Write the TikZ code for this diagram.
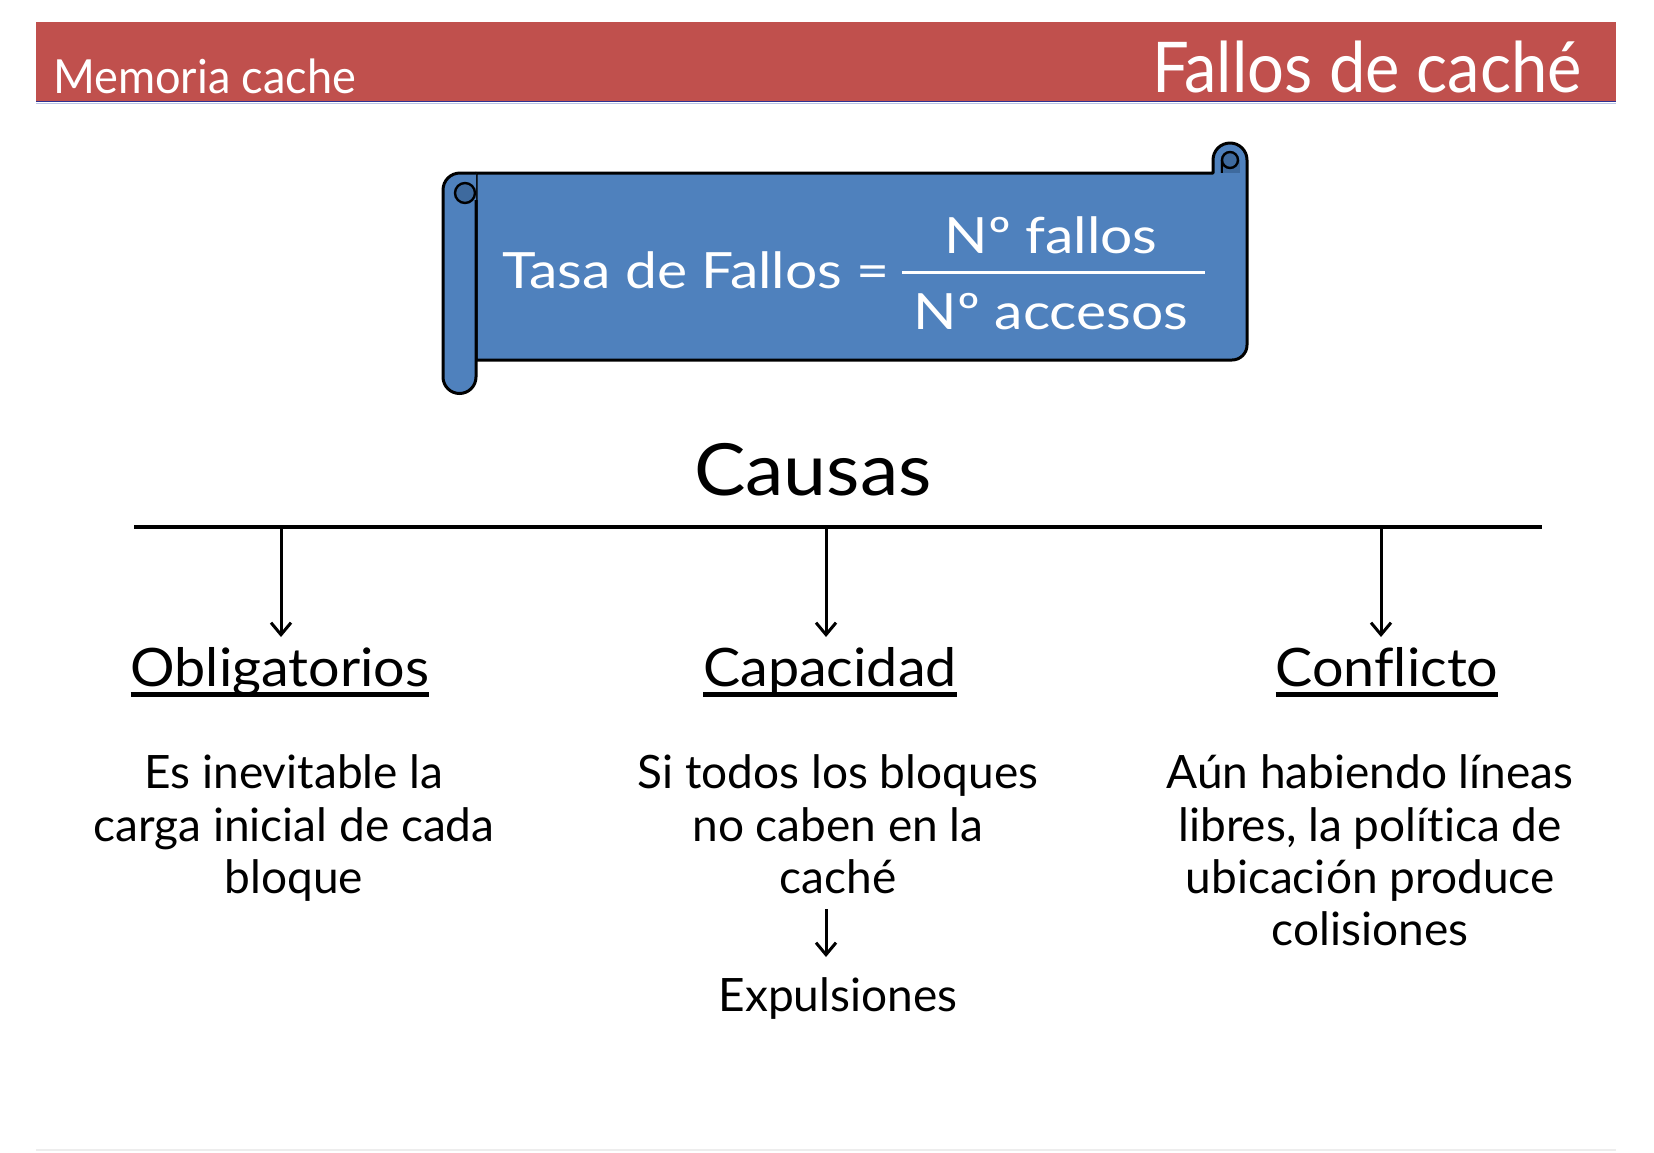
\documentclass[tikz,border=0pt]{standalone}
\usepackage{fontspec}
\usetikzlibrary{arrows.meta}
\setmainfont[Ligatures=NoCommon]{Lato}
\newfontfamily\memofont[FakeStretch=0.96]{Lato}
\newfontfamily\titlefont[FakeStretch=0.93]{Lato}
\newfontfamily\scrollfont[FakeStretch=1.14,Ligatures=NoCommon]{Lato}
\newfontfamily\headfont[FakeStretch=1.05,Ligatures=NoCommon]{Lato}
\newfontfamily\causasfont[FakeStretch=1.07]{Lato}
\definecolor{hdrred}{HTML}{C0504D}
\definecolor{scrollblue}{HTML}{4F81BD}
\definecolor{curlblue}{HTML}{3E6A9E}
\definecolor{hdrline}{HTML}{2E3192}
\definecolor{hdrlight}{HTML}{B8C4E8}
\begin{document}
\begin{tikzpicture}[x=0.5pt,y=-0.5pt,
  lbl/.style={anchor=base,inner sep=0pt,outer sep=0pt},
  bodytxt/.style={lbl,font=\fontsize{23pt}{26pt}\selectfont},
  headtxt/.style={lbl,font=\headfont\fontsize{26.5pt}{30pt}\selectfont},
  scrolltxt/.style={lbl,text=white,font=\scrollfont\fontsize{25pt}{30pt}\selectfont},
  outline/.style={draw=black,line width=1.5pt,line join=round},
  branch/.style={line width=1.5pt,-{Straight Barb[length=6pt,width=10pt,line width=1.5pt]}},
  uline/.style={line width=2.5pt}]
\useasboundingbox (0,0) rectangle (1654,1152);
% header
\fill[hdrred] (36,22) rectangle (1616,101);
\draw[hdrline,line width=0.9pt] (36,101.5) -- (1616,101.5);
\draw[hdrlight,line width=0.7pt] (36,103.5) -- (1616,103.5);
\node[lbl,anchor=base west,text=white,font=\memofont\fontsize{23.5pt}{28pt}\selectfont] (memo) at (53,93) {Memoria cache};
\node[lbl,anchor=base east,text=white,font=\titlefont\fontsize{35pt}{40pt}\selectfont] (title) at (1582,92) {Fallos de caché};
% scroll body
\path[fill=scrollblue,outline] (476,360) -- (476,173) -- (1213,173) -- (1213,160)
  .. controls (1213,150.6) and (1220.6,143) .. (1230,143)
  .. controls (1239.4,143) and (1247,150.6) .. (1247,160)
  -- (1247,345) .. controls (1247,353.3) and (1240.3,360) .. (1232,360) -- cycle;
% right curl detail
\fill[curlblue] (1220,160) rectangle (1240,173);
\path[fill=curlblue,draw=black,line width=1.2pt] (1230,160) circle[radius=8];
\draw[line width=1.2pt] (1222,160) -- (1222,173);
% left roll
\fill[scrollblue] (476,377) .. controls (476,386.1) and (468.6,393.5) .. (459.5,393.5)
  .. controls (450.4,393.5) and (443,386.1) .. (443,377) -- (443,190)
  .. controls (443,180.6) and (450.6,173) .. (460,173) -- (476,173) -- cycle;
\draw[outline] (476,200) -- (476,377) .. controls (476,386.1) and (468.6,393.5) .. (459.5,393.5)
  .. controls (450.4,393.5) and (443,386.1) .. (443,377) -- (443,190)
  .. controls (443,180.6) and (450.6,173) .. (460,173) -- (476,173);
\path[fill=curlblue,draw=black,line width=1.2pt] (465,193) circle[radius=10];
% scroll text
\node[scrolltxt,anchor=base west] (tasa) at (502,288) {Tasa de Fallos =};
\node[scrolltxt] (num) at (1051,253) {Nº fallos};
\node[scrolltxt] (den) at (1051,329) {Nº accesos};
\coordinate (fracL) at (902,272);
\coordinate (fracR) at (1205,272);
\draw[white,line width=1.5pt] (fracL) -- (fracR);
% causas
\node[lbl,font=\causasfont\fontsize{36pt}{40pt}\selectfont] (causas) at (813,495) {Causas};
\coordinate (barL) at (134,527);
\coordinate (barR) at (1542,527);
\draw[line width=2pt] (barL) -- (barR);
\coordinate (b1) at (281,527);
\coordinate (b2) at (826,527);
\coordinate (b3) at (1381,527);
\coordinate (t1) at (281,637);
\coordinate (t2) at (826,637);
\coordinate (t3) at (1381,637);
\draw[branch] (b1) -- (t1);
\draw[branch] (b2) -- (t2);
\draw[branch] (b3) -- (t3);
% headings
\node[headtxt] (obl) at (280,686) {Obligatorios};
\node[headtxt] (cap) at (830,686) {Capacidad};
\node[headtxt] (con) at (1387,686) {Conflicto};
\foreach \h in {obl,cap,con}{
  \draw[uline] ([yshift=-4pt]\h.base west) -- ([yshift=-4pt]\h.base east);
}
% left block
\node[bodytxt] (l1) at (294,788) {Es inevitable la};
\node[bodytxt] (l2) at (294,841) {carga inicial de cada};
\node[bodytxt] (l3) at (294,893) {bloque};
% middle block
\node[bodytxt] (m1) at (838,788) {Si todos los bloques};
\node[bodytxt] (m2) at (838,841) {no caben en la};
\node[bodytxt] (m3) at (838,893) {caché};
\coordinate (ma) at (826,909);
\coordinate (mb) at (826,957);
\draw[branch] (ma) -- (mb);
\node[bodytxt] (m4) at (838,1011) {Expulsiones};
% right block
\node[bodytxt] (r1) at (1370,788) {Aún habiendo líneas};
\node[bodytxt] (r2) at (1370,841) {libres, la política de};
\node[bodytxt] (r3) at (1370,893) {ubicación produce};
\node[bodytxt] (r4) at (1370,945) {colisiones};
% bottom faint line
\draw[black!7,line width=1pt] (36,1150) -- (1616,1150);
\end{tikzpicture}
\end{document}
